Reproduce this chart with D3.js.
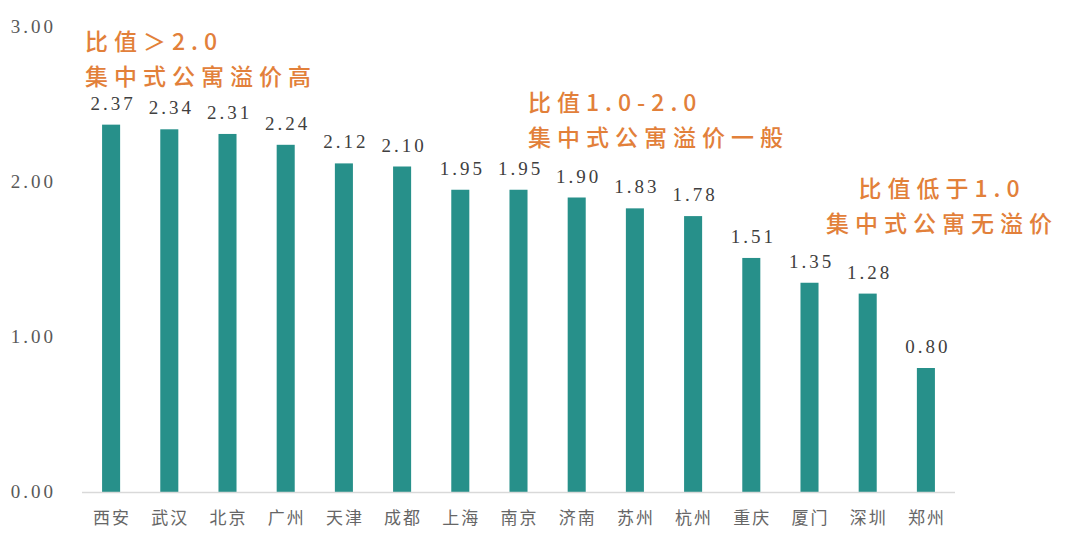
<!DOCTYPE html>
<html lang="zh">
<head>
<meta charset="UTF-8">
<title>集中式公寓溢价比值</title>
<style>
  body { margin: 0; background: #fff; }
  svg text { font-family: "Liberation Serif", "Noto Sans CJK SC", serif; }
  .cjk { font-family: "Noto Sans CJK SC", sans-serif; }
</style>
</head>
<body>
<svg width="1079" height="556" id="svg"></svg>
<script src="https://d3js.org/d3.v7.min.js"></script>
<script>
const cities = ["西安", "武汉", "北京", "广州", "天津", "成都", "上海", "南京", "济南", "苏州", "杭州", "重庆", "厦门", "深圳", "郑州"]
const ratios = [2.37, 2.34, 2.31, 2.24, 2.12, 2.10, 1.95, 1.95, 1.90, 1.83, 1.78, 1.51, 1.35, 1.28, 0.80]
const yTicks = [0, 1, 2, 3]
const notes = [
  { lines: ["比值＞2.0", "集中式公寓溢价高"], x: 85, y: 50, anchor: "start" },
  { lines: ["比值1.0-2.0", "集中式公寓溢价一般"], x: 528, y: 111, anchor: "start" },
  { lines: ["比值低于1.0", "集中式公寓无溢价"], x: 942, y: 197, anchor: "middle" }
]

const svg = d3.select("svg#svg")
const pad = { left: 82, right: 955, top: 27, bottom: 492 }

const x = d3.scaleBand().domain(cities).range([pad.left, pad.right]).paddingInner(0.69).paddingOuter(0.345)
const y = d3.scaleLinear().domain([0, 3]).range([pad.bottom, pad.top])

// y轴刻度文字
svg.append("g").selectAll("text").data(yTicks).join("text")
  .attr("x", 56).attr("y", d => y(d) + 6)
  .attr("text-anchor", "end")
  .attr("font-size", 19).attr("letter-spacing", 3).attr("fill", "#595959")
  .text(d => d.toFixed(2))

// 柱子
svg.append("g").selectAll("rect").data(ratios).join("rect")
  .attr("x", (d, i) => x(cities[i]))
  .attr("y", d => y(d))
  .attr("width", x.bandwidth())
  .attr("height", d => pad.bottom - y(d))
  .attr("fill", "#27908A")

// x轴
svg.append("line")
  .attr("x1", pad.left).attr("x2", pad.right).attr("y1", pad.bottom + 0.5).attr("y2", pad.bottom + 0.5)
  .attr("stroke", "#D9D9D9").attr("stroke-width", 1.5)

svg.append("g").selectAll("text").data(cities).join("text")
  .attr("class", "cjk")
  .attr("x", d => x(d) + x.bandwidth() / 2 + 1)
  .attr("y", 524)
  .attr("text-anchor", "middle")
  .attr("font-size", 17).attr("letter-spacing", 2).attr("fill", "#666666")
  .text(d => d)

// 数值标签
svg.append("g").selectAll("text").data(ratios).join("text")
  .attr("x", (d, i) => x(cities[i]) + x.bandwidth() / 2 + 2)
  .attr("y", d => y(d) - 15)
  .attr("text-anchor", "middle")
  .attr("font-size", 19).attr("letter-spacing", 3).attr("fill", "#404040")
  .text(d => d.toFixed(2))

// 注释
notes.forEach(n => {
  const t = svg.append("text")
    .attr("class", "cjk")
    .attr("x", n.x).attr("y", n.y)
    .attr("text-anchor", n.anchor)
    .attr("font-size", 23).attr("font-weight", 500)
    .attr("letter-spacing", 6).attr("fill", "#E2803A")
  n.lines.forEach((l, i) => {
    t.append("tspan").attr("x", n.x).attr("dy", i ? 35 : 0).text(l)
  })
})
</script>
</body>
</html>
